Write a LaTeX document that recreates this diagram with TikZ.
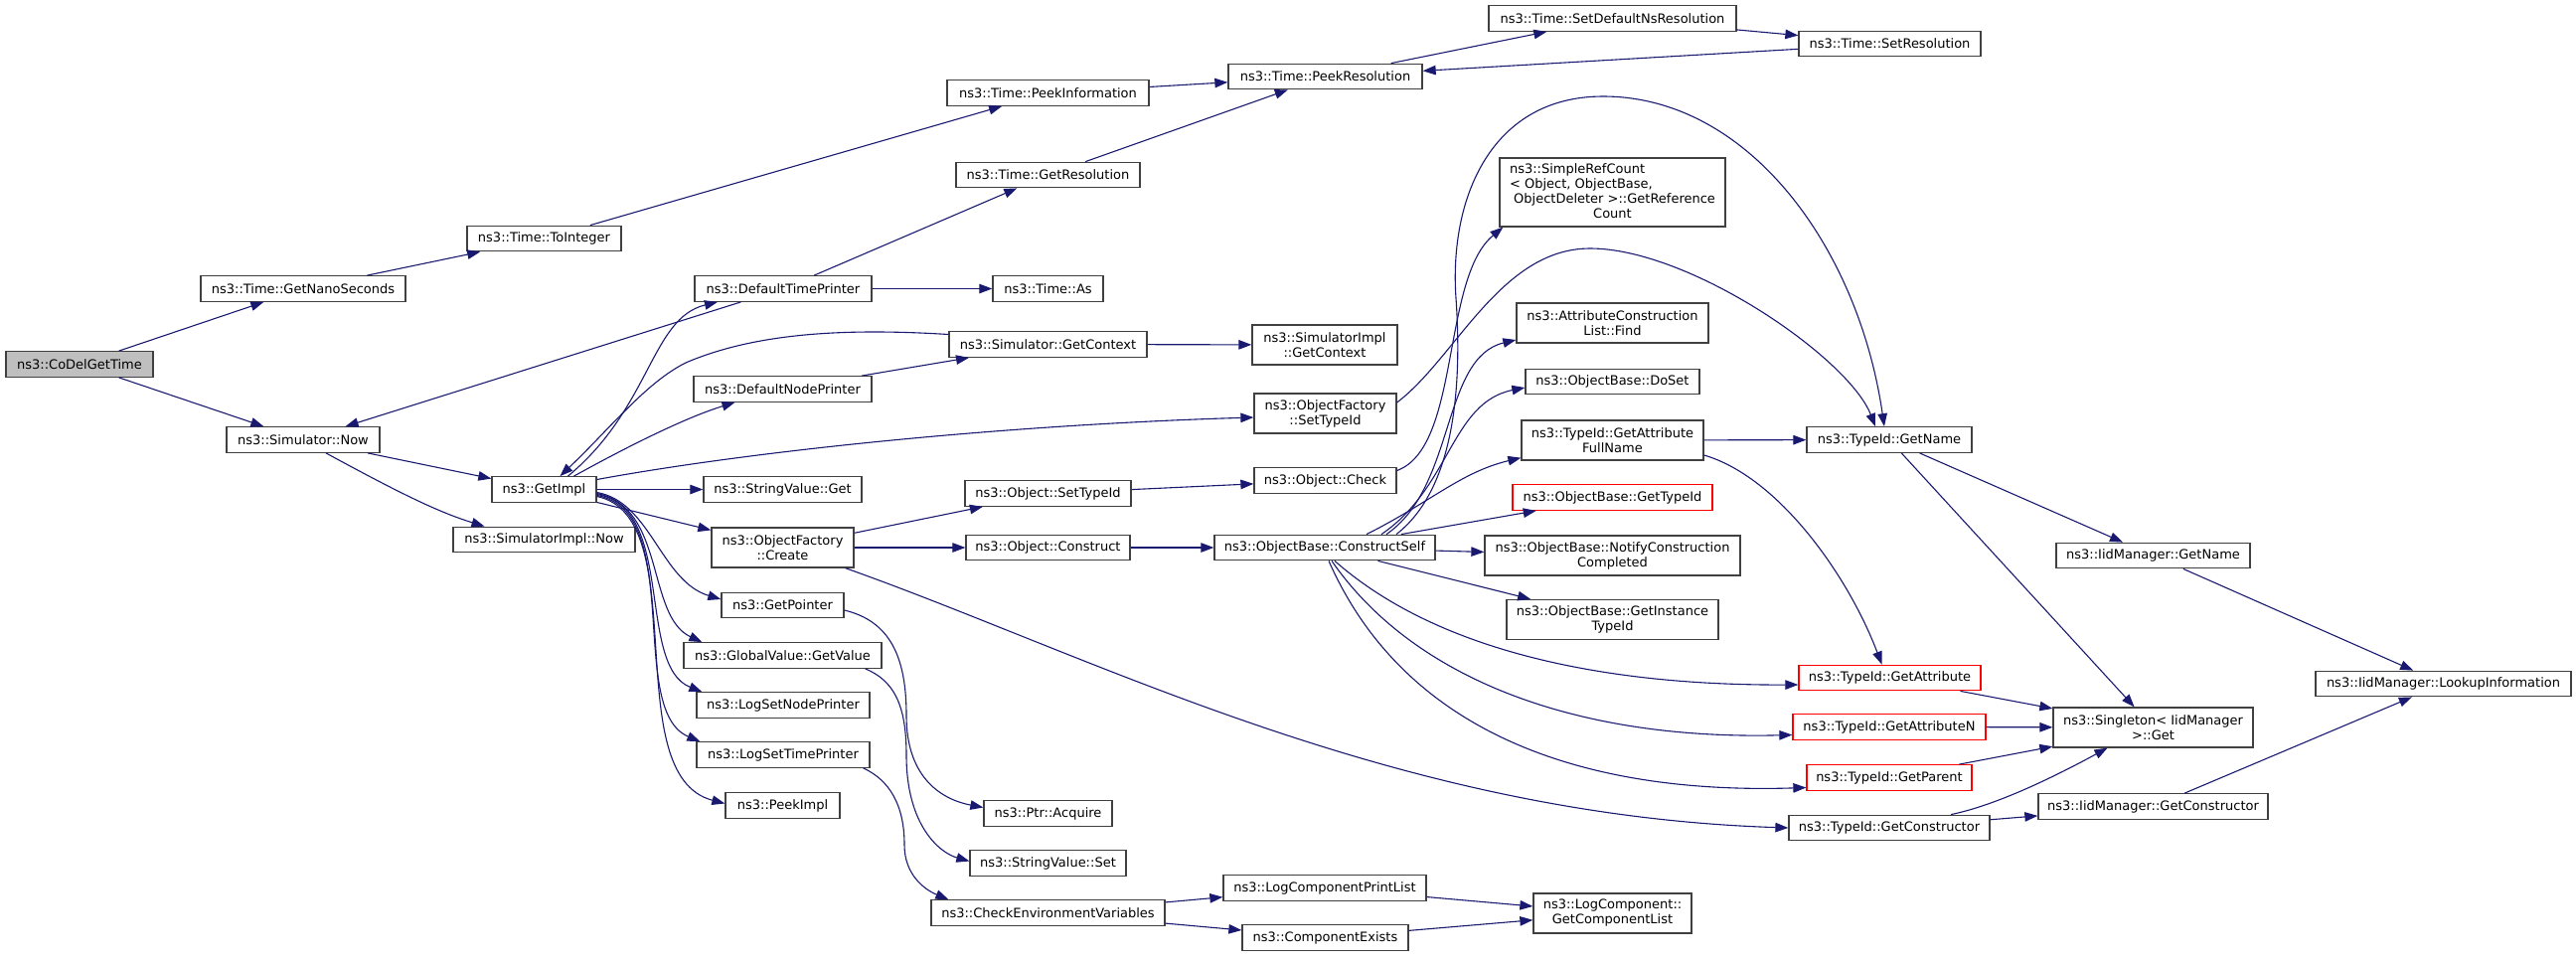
\documentclass[tikz,border=0pt]{standalone}
\usepackage{fontspec}
\setmainfont{DejaVu Sans}
\usetikzlibrary{arrows.meta,calc}
\definecolor{edgec}{HTML}{191970}
\definecolor{boxc}{HTML}{404040}
\definecolor{fillc}{HTML}{BFBFBF}
\begin{document}
\begin{tikzpicture}[x=1pt,y=-1pt,
  box/.style={draw=boxc, line width=1.3pt, inner sep=0pt, minimum height=25.5pt,
    font=\fontsize{13}{15}\selectfont, align=center, fill=white},
  two/.style={minimum height=40pt},
  redbox/.style={draw=red},
  e/.style={draw=edgec, line width=1.1pt, -{Triangle[length=13pt,width=9.5pt]}}
]
\useasboundingbox (0,0) rectangle (2592,967);

% column 1
\node[box, minimum width=148pt, fill=fillc] (codel) at (80,366.5) {ns3::CoDelGetTime};
% column 2
\node[box, minimum width=206pt] (nano) at (305,290.5) {ns3::Time::GetNanoSeconds};
\node[box, minimum width=154pt] (simnow) at (305,442.5) {ns3::Simulator::Now};
% column 3
\node[box, minimum width=155pt] (tointeger) at (547.5,240) {ns3::Time::ToInteger};
\node[box, minimum width=105pt] (getimpl) at (547.5,492.5) {ns3::GetImpl};
\node[box, minimum width=183pt] (simimplnow) at (547.5,543) {ns3::SimulatorImpl::Now};
% column 4
\node[box, minimum width=178pt] (dtp) at (788,290.5) {ns3::DefaultTimePrinter};
\node[box, minimum width=179pt] (dnp) at (787.5,391.5) {ns3::DefaultNodePrinter};
\node[box, minimum width=159pt] (svget) at (787.5,492.5) {ns3::StringValue::Get};
\node[box, two, minimum width=143pt] (ofcreate) at (787.5,551) {ns3::ObjectFactory\\::Create};
\node[box, minimum width=123pt] (getpointer) at (787.5,609) {ns3::GetPointer};
\node[box, minimum width=199pt] (gvgetvalue) at (787.5,659.5) {ns3::GlobalValue::GetValue};
\node[box, minimum width=174pt] (logsetnode) at (788,709.5) {ns3::LogSetNodePrinter};
\node[box, minimum width=174pt] (logsettime) at (788,759.5) {ns3::LogSetTimePrinter};
\node[box, minimum width=115pt] (peekimpl) at (787.5,810.5) {ns3::PeekImpl};
% column 5
\node[box, minimum width=203pt] (peekinfo) at (1054.5,93.5) {ns3::Time::PeekInformation};
\node[box, minimum width=185pt] (getres) at (1054.5,176) {ns3::Time::GetResolution};
\node[box, minimum width=111pt] (timeas) at (1054.5,290.5) {ns3::Time::As};
\node[box, minimum width=199pt] (getcontext) at (1054.5,346.5) {ns3::Simulator::GetContext};
\node[box, minimum width=167pt] (objsettypeid) at (1054.5,496.5) {ns3::Object::SetTypeId};
\node[box, minimum width=165pt] (objconstruct) at (1054.5,551) {ns3::Object::Construct};
\node[box, minimum width=129pt] (ptracquire) at (1054.5,818.5) {ns3::Ptr::Acquire};
\node[box, minimum width=157pt] (svset) at (1054.5,868.5) {ns3::StringValue::Set};
\node[box, minimum width=235pt] (checkenv) at (1054.5,918.5) {ns3::CheckEnvironmentVariables};
% column 6
\node[box, minimum width=195pt] (peekres) at (1333.5,77) {ns3::Time::PeekResolution};
\node[box, two, minimum width=146pt] (simimplctx) at (1333,347) {ns3::SimulatorImpl\\::GetContext};
\node[box, two, minimum width=143pt] (ofsettypeid) at (1333.5,416) {ns3::ObjectFactory\\::SetTypeId};
\node[box, minimum width=143pt] (objcheck) at (1333.5,483.5) {ns3::Object::Check};
\node[box, minimum width=222pt] (cself) at (1333,551) {ns3::ObjectBase::ConstructSelf};
\node[box, minimum width=204pt] (logprintlist) at (1333,893.5) {ns3::LogComponentPrintList};
\node[box, minimum width=167pt] (compexists) at (1333.5,943.5) {ns3::ComponentExists};
% column 7
\node[box, minimum width=249pt] (setdefns) at (1622.5,18.5) {ns3::Time::SetDefaultNsResolution};
\node[box, minimum width=227pt, minimum height=69pt] (simpleref) at (1622.5,193.5)
  {\begin{tabular}{@{}l@{}}ns3::SimpleRefCount\\< Object, ObjectBase,\\\ ObjectDeleter >::GetReference\\\multicolumn{1}{@{}c@{}}{Count}\end{tabular}};
\node[box, two, minimum width=193pt] (attrfind) at (1622.5,325) {ns3::AttributeConstruction\\List::Find};
\node[box, minimum width=175pt] (doset) at (1622.5,384) {ns3::ObjectBase::DoSet};
\node[box, two, minimum width=183pt] (gafullname) at (1622.5,443) {ns3::TypeId::GetAttribute\\FullName};
\node[box, redbox, minimum width=201pt] (obgettypeid) at (1622.5,500.5) {ns3::ObjectBase::GetTypeId};
\node[box, two, minimum width=257pt] (notify) at (1622.5,559) {ns3::ObjectBase::NotifyConstruction\\Completed};
\node[box, two, minimum width=213pt] (getinst) at (1622.5,623.5) {ns3::ObjectBase::GetInstance\\TypeId};
\node[box, two, minimum width=159pt] (getcomplist) at (1622.5,919) {ns3::LogComponent::\\GetComponentList};
% column 8
\node[box, minimum width=183pt] (setres) at (1901.5,44) {ns3::Time::SetResolution};
\node[box, minimum width=166pt] (tgetname) at (1901,442.5) {ns3::TypeId::GetName};
\node[box, redbox, minimum width=183pt] (tgetattr) at (1901.5,682) {ns3::TypeId::GetAttribute};
\node[box, redbox, minimum width=194pt] (tgetattrn) at (1901,731.5) {ns3::TypeId::GetAttributeN};
\node[box, redbox, minimum width=166pt] (tgetparent) at (1901,782.5) {ns3::TypeId::GetParent};
\node[box, minimum width=202pt] (tgetctor) at (1901,833) {ns3::TypeId::GetConstructor};
% column 9
\node[box, minimum width=195pt] (iidgetname) at (2166.5,559) {ns3::IidManager::GetName};
\node[box, two, minimum width=201pt] (singleton) at (2166.5,732) {ns3::Singleton< IidManager\\>::Get};
\node[box, minimum width=231pt] (iidgetctor) at (2166.5,811.5) {ns3::IidManager::GetConstructor};
% column 10
\node[box, minimum width=257pt] (lookup) at (2458.5,688) {ns3::IidManager::LookupInformation};

% straight connectors
\draw[e] (codel) -- (nano);
\draw[e] (codel) -- (simnow);
\draw[e] (nano) -- (tointeger);
\draw[e] (tointeger) -- (peekinfo);
\draw[e] (peekinfo) -- (peekres);
\draw[e] (getres) -- (peekres);
\draw[e] (peekres) -- (setdefns);
\draw[e] (setdefns) -- (setres);
\draw[e] (setres) -- (peekres);
\draw[e] (dtp) -- (getres);
\draw[e] (dtp) -- (timeas);
\draw[e] (dtp) -- (simnow);
\draw[e] (simnow) -- (getimpl);
\draw[e] (dnp) -- (getcontext);
\draw[e] (getcontext) -- (simimplctx);
\draw[e] (getimpl) -- (svget);
\draw[e] (getimpl) -- (ofcreate);
\draw[e] (ofcreate) -- (objsettypeid);
\draw[e] (ofcreate) -- (objconstruct);
\draw[e] (objsettypeid) -- (objcheck);
\draw[e] (objconstruct) -- (cself);
\draw[e] (checkenv) -- (logprintlist);
\draw[e] (checkenv) -- (compexists);
\draw[e] (logprintlist) -- (getcomplist);
\draw[e] (compexists) -- (getcomplist);
\draw[e] (cself) -- (obgettypeid);
\draw[e] (cself) -- (notify);
\draw[e] (cself) -- (getinst);
\draw[e] (gafullname) -- (tgetname);
\draw[e] (tgetname) -- (iidgetname);
\draw[e] (tgetname) -- (singleton);
\draw[e] (iidgetname) -- (lookup);
\draw[e] (tgetattr) -- (singleton);
\draw[e] (tgetattrn) -- (singleton);
\draw[e] (tgetparent) -- (singleton);
\draw[e] (tgetctor) -- (iidgetctor);
\draw[e] (iidgetctor) -- (lookup);

% curved connectors
\draw[e] ($(simnow.south)+(23,0)$) .. controls (400,495) and (440,515) .. ($(simimplnow.north)+(-60,0)$);
\draw[e] ($(getimpl.north)+(24,0)$) .. controls (655,410) and (655,320) .. ($(dtp.south)+(-66,0)$);
\draw[e] ($(getcontext.west)+(0,-10)$) .. controls (850,330) and (760,335) .. (690,365)
   .. controls (650,385) and (615,430) .. ($(getimpl.north)+(16,0)$);
\draw[e] ($(getimpl.north)+(30,0)$) .. controls (630,450) and (690,420) .. ($(dnp.south)+(-48,0)$);
\draw[e] ($(getimpl.east)+(0,-10)$) .. controls (750,455) and (1000,428) .. ($(ofsettypeid.west)+(0,4)$);
\draw[e] ($(getimpl.east)+(0,3)$) .. controls (655,505) and (665,585) .. ($(getpointer.west)+(0,-6)$);
\draw[e] ($(getimpl.east)+(0,4)$) .. controls (670,510) and (650,620) .. ($(gvgetvalue.north west)+(19,0)$);
\draw[e] ($(getimpl.east)+(0,5)$) .. controls (680,510) and (640,670) .. ($(logsetnode.north west)+(6,0)$);
\draw[e] ($(getimpl.east)+(0,6)$) .. controls (690,515) and (630,715) .. ($(logsettime.north west)+(4,0)$);
\draw[e] ($(getimpl.east)+(0,7)$) .. controls (700,520) and (620,780) .. ($(peekimpl.west)+(0,-2)$);
\draw[e] ($(ofcreate.south east)+(-9,0)$) .. controls (1100,660) and (1400,820) .. (tgetctor.west);
\draw[e] ($(getpointer.east)+(0,5)$) .. controls (895,625) and (912,660) .. (912,720)
   .. controls (912,785) and (950,805) .. ($(ptracquire.west)+(0,-6)$);
\draw[e] ($(gvgetvalue.south east)+(-17,0)$) .. controls (900,685) and (912,710) .. (912,760)
   .. controls (912,830) and (945,858) .. ($(svset.west)+(0,-2)$);
\draw[e] ($(logsettime.south east)+(-7,0)$) .. controls (895,785) and (910,810) .. (910,850)
   .. controls (910,880) and (930,895) .. ($(checkenv.north west)+(18,0)$);
\draw[e] ($(ofsettypeid.east)+(0,-11)$) .. controls (1465,360) and (1510,250) .. (1600,250)
   .. controls (1700,250) and (1860,360) .. ($(tgetname.north)+(-14,0)$);
\draw[e] ($(objcheck.east)+(0,-10)$) .. controls (1470,450) and (1450,280) .. ($(simpleref.south west)+(4,0)$);
\draw[e] ($(cself.north)+(72,0)$) .. controls (1460,495) and (1472,400) .. (1465,300)
   .. controls (1458,200) and (1500,97) .. (1613,97)
   .. controls (1760,97) and (1870,250) .. ($(tgetname.north)+(-5,0)$);
\draw[e] ($(cself.north)+(62,0)$) .. controls (1465,490) and (1450,360) .. ($(attrfind.west)+(0,17)$);
\draw[e] ($(cself.north)+(57,0)$) .. controls (1460,490) and (1460,405) .. ($(doset.west)+(0,6)$);
\draw[e] ($(cself.north)+(42,0)$) .. controls (1440,505) and (1470,475) .. ($(gafullname.south west)+(0,-3)$);
\draw[e] ($(cself.south)+(10,0)$) .. controls (1440,650) and (1600,690) .. ($(tgetattr.west)+(0,7)$);
\draw[e] ($(cself.south)+(7,0)$) .. controls (1420,680) and (1580,745) .. ($(tgetattrn.west)+(0,8)$);
\draw[e] ($(cself.south)+(4,0)$) .. controls (1410,730) and (1580,800) .. ($(tgetparent.west)+(0,10)$);
\draw[e] ($(gafullname.east)+(0,15)$) .. controls (1790,480) and (1860,580) .. ($(tgetattr.north)+(-8,0)$);
\draw[e] ($(tgetctor.north)+(62,0)$) .. controls (2010,810) and (2070,780) .. ($(singleton.south)+(-46,0)$);
\end{tikzpicture}
\end{document}
